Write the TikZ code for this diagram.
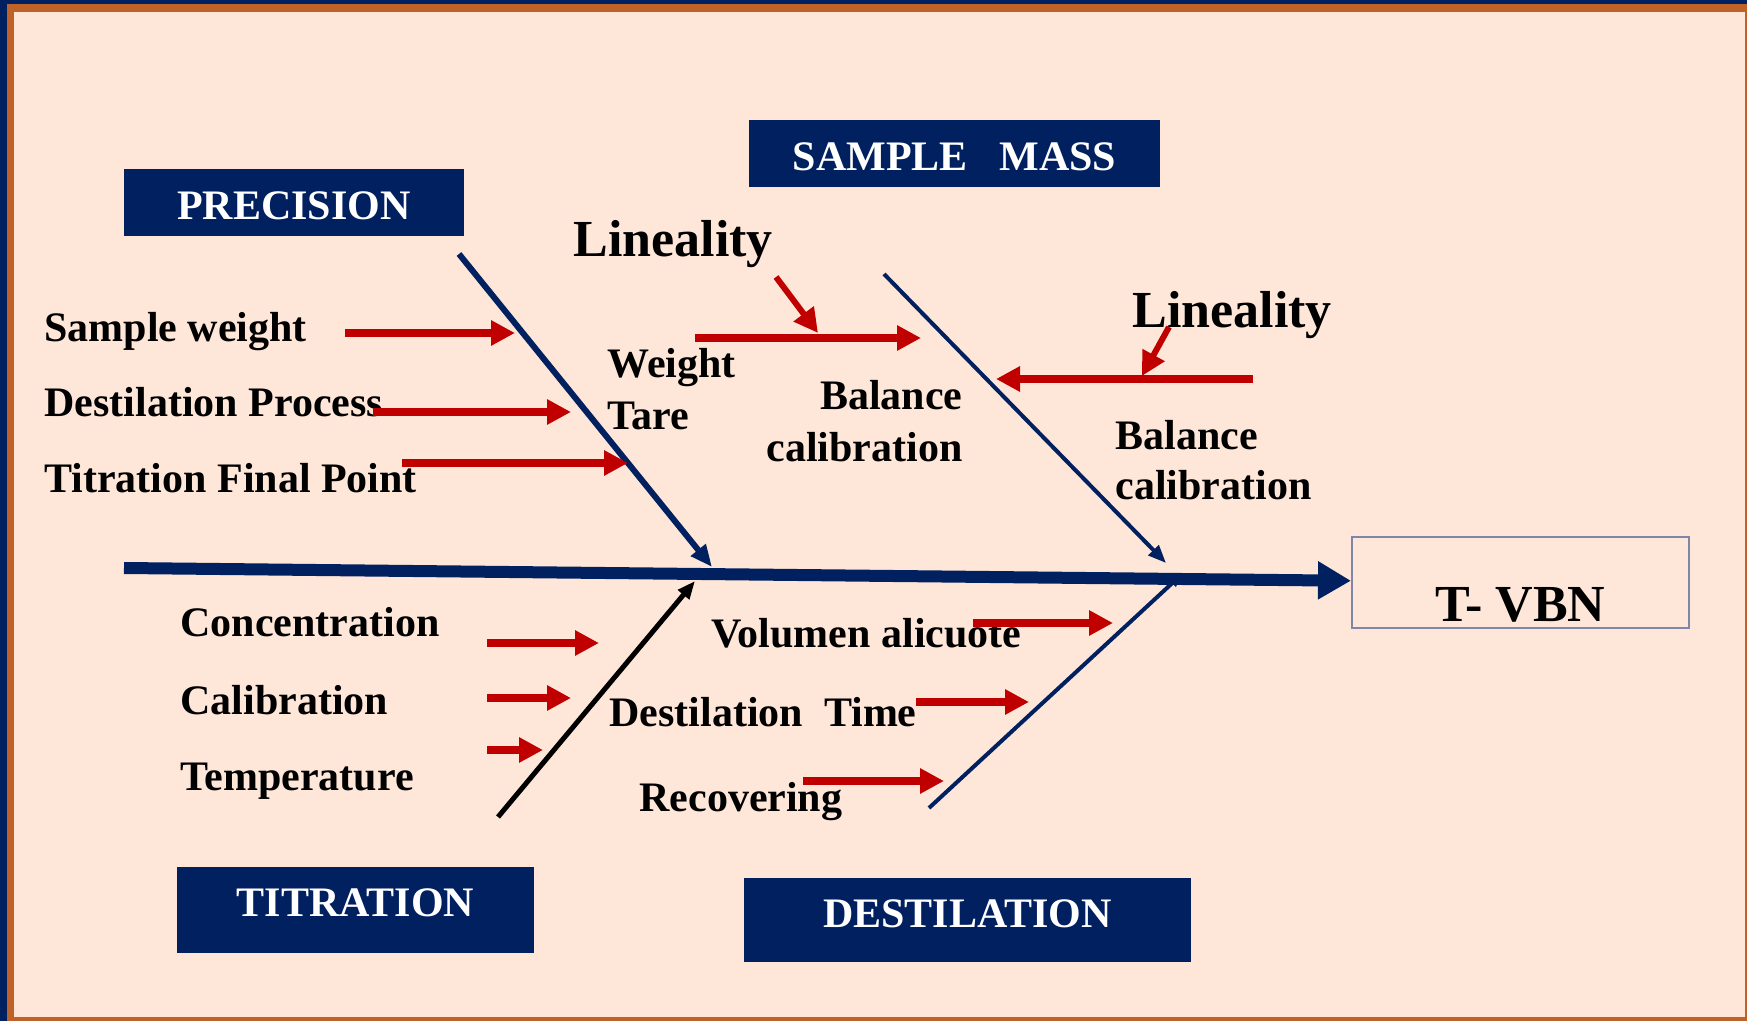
\documentclass[tikz,border=0pt]{standalone}
\usepackage{fontspec}
\setmainfont{Liberation Serif}
\usepackage{xcolor}
\usetikzlibrary{arrows.meta, positioning}

\definecolor{navy}{HTML}{002060}
\definecolor{peach}{HTML}{FEE7D9}
\definecolor{rust}{HTML}{BE6228}
\definecolor{causered}{HTML}{C00000}
\definecolor{boxgray}{HTML}{7F86A8}

\begin{document}
\begin{tikzpicture}[
			x=0.5pt, y=-0.5pt,
			every node/.style={inner sep=0pt, font=\fontsize{21}{25}\selectfont\bfseries},
			category/.style={fill=navy, text=white},
			cause/.style={anchor=base west},
			lineality/.style={anchor=base west, font=\fontsize{26}{31}\selectfont\bfseries},
			bone/.style={draw=navy, line width=2pt, -{Triangle[length=9pt, width=7pt]}},
			redarrow/.style={draw=causered, line width=4pt, -{Triangle[length=12pt, width=12pt]}},
			spine/.style={draw=navy, line width=6pt, -{Triangle[length=16.5pt, width=18pt]}}
			]
			
			% Frame
			\useasboundingbox (0,0) rectangle (1747,1021);
			\fill [navy] (0,0) rectangle (1747,1021);
			\fill [rust] (7,4) rectangle (1747,1021);
			\fill [peach] (14,12) rectangle (1745,1017);
			
			% Nodes
			\node (precision) [category, minimum width=170pt, minimum height=33.5pt, text height=17.5pt] at (294,202.5) {PRECISION};
			\node (sample_mass) [category, minimum width=205.5pt, minimum height=33.5pt, text height=17.5pt] at (954.5,153.5) {SAMPLE\ \ \ MASS};
			\node (titration) [category, minimum width=178.5pt, minimum height=43pt, text depth=7pt] at (355.5,910) {TITRATION};
			\node (destilation) [category, minimum width=223.5pt, minimum height=42pt, text depth=6pt] at (967.5,920) {DESTILATION};
			\node (tvbn) [draw=boxgray, line width=1pt, minimum width=168.5pt, minimum height=45.5pt, text height=39.5pt, text depth=0pt, font=\fontsize{26}{31}\selectfont\bfseries] at (1520.5,582.5) {T- VBN};
			
			\node (sample_weight) [cause] at (44,342) {Sample weight};
			\node (destilation_process) [cause] at (44,417) {Destilation Process};
			\node (titration_point) [cause] at (44,493) {Titration Final Point};
			\node (lineality_left) [lineality] at (573,257) {Lineality};
			\node (lineality_right) [lineality] at (1132,328) {Lineality};
			\node (weight) [cause] at (607,378) {Weight};
			\node (tare) [cause] at (607,430) {Tare};
			\node (balance_left) [cause, anchor=base east] at (963,410) {Balance};
			\node (calibration_left) [cause, anchor=base east] at (963,462) {calibration};
			\node (balance_right) [cause] at (1115,450) {Balance};
			\node (calibration_right) [cause] at (1115,500) {calibration};
			\node (concentration) [cause] at (180,637) {Concentration};
			\node (calibration) [cause] at (180,714) {Calibration};
			\node (temperature) [cause] at (180,790) {Temperature};
			\node (volumen) [cause] at (711,647) {Volumen alicuote};
			\node (destilation_time) [cause] at (609,726) {Destilation\ \ Time};
			\node (recovering) [cause] at (639,811) {Recovering};
			
			% Bone ends
			\coordinate (spine_tail) at (124,568);
			\coordinate (precision_top) at (459,254);
			\coordinate (precision_head) at (712,567);
			\coordinate (sample_top) at (884,274);
			\coordinate (sample_head) at (1166,563);
			\coordinate (titration_foot) at (498,817);
			\coordinate (titration_head) at (695,581);
			\coordinate (destilation_foot) at (929,808);
			\coordinate (destilation_head) at (1181,575);
			
			% Cause arrow ends
			\coordinate (sample_weight_a) at (345,333);
			\coordinate (sample_weight_b) at (515,333);
			\coordinate (destilation_process_a) at (373,412);
			\coordinate (destilation_process_b) at (571,412);
			\coordinate (titration_point_a) at (402,463);
			\coordinate (titration_point_b) at (628,463);
			\coordinate (weight_a) at (695,338);
			\coordinate (weight_b) at (921,338);
			\coordinate (lineality_left_a) at (776,277);
			\coordinate (lineality_left_b) at (818,333);
			\coordinate (balance_a) at (1253,379);
			\coordinate (balance_b) at (996,379);
			\coordinate (lineality_right_a) at (1169,327);
			\coordinate (lineality_right_b) at (1142,376);
			\coordinate (concentration_a) at (487,643);
			\coordinate (concentration_b) at (599,643);
			\coordinate (calibration_a) at (487,698);
			\coordinate (calibration_b) at (571,698);
			\coordinate (temperature_a) at (487,750);
			\coordinate (temperature_b) at (543,750);
			\coordinate (volumen_a) at (973,623);
			\coordinate (volumen_b) at (1113,623);
			\coordinate (destilation_time_a) at (916,702);
			\coordinate (destilation_time_b) at (1029,702);
			\coordinate (recovering_a) at (803,781);
			\coordinate (recovering_b) at (944,781);
			
			% Connections
			\draw [spine] (spine_tail) -- (tvbn);
			\draw [bone, line width=3pt, -{Triangle[length=11pt, width=9pt]}] (precision_top) -- (precision_head);
			\draw [bone] (sample_top) -- (sample_head);
			\draw [bone, draw=black, line width=2.5pt] (titration_foot) -- (titration_head);
			\draw [bone, -{Triangle[length=6pt, width=5pt]}] (destilation_foot) -- (destilation_head);
			
			\draw [redarrow] (sample_weight_a) -- (sample_weight_b);
			\draw [redarrow] (destilation_process_a) -- (destilation_process_b);
			\draw [redarrow] (titration_point_a) -- (titration_point_b);
			\draw [redarrow] (weight_a) -- (weight_b);
			\draw [redarrow, line width=3pt] (lineality_left_a) -- (lineality_left_b);
			\draw [redarrow] (balance_a) -- (balance_b);
			\draw [redarrow, line width=3pt] (lineality_right_a) -- (lineality_right_b);
			\draw [redarrow] (concentration_a) -- (concentration_b);
			\draw [redarrow] (calibration_a) -- (calibration_b);
			\draw [redarrow] (temperature_a) -- (temperature_b);
			\draw [redarrow] (volumen_a) -- (volumen_b);
			\draw [redarrow] (destilation_time_a) -- (destilation_time_b);
			\draw [redarrow] (recovering_a) -- (recovering_b);
			
		\end{tikzpicture}
\end{document}
